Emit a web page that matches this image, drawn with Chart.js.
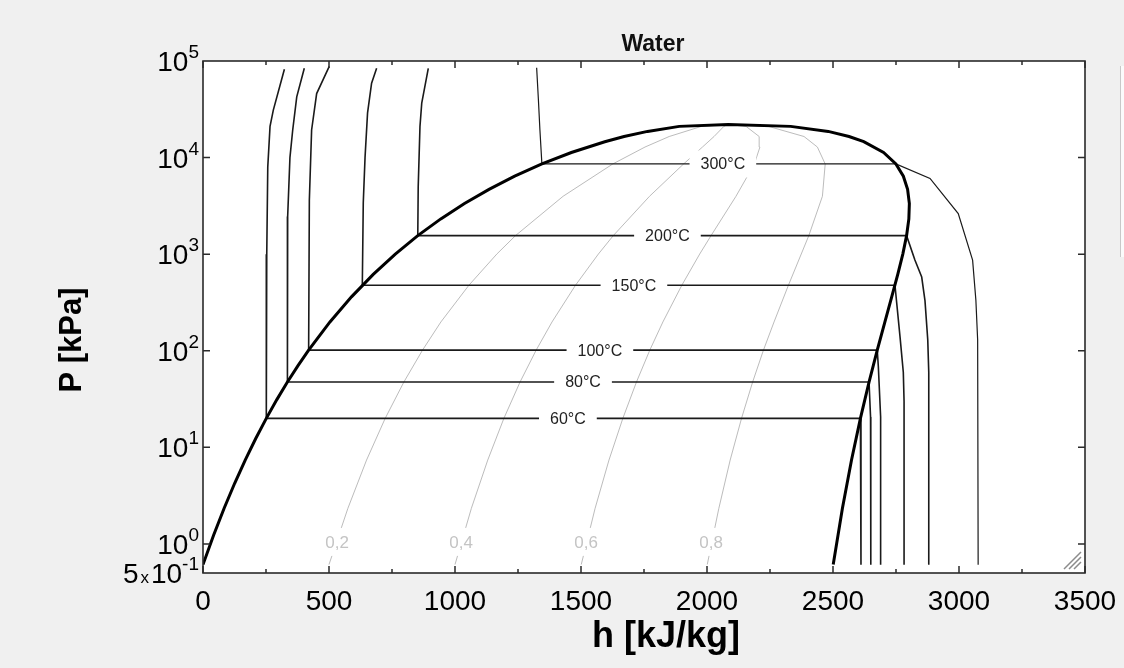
<!DOCTYPE html>
<html>
<head>
<meta charset="utf-8">
<script src="https://cdn.jsdelivr.net/npm/chart.js@4.4.1/dist/chart.umd.min.js"></script>
<style>
  html, body { margin: 0; padding: 0; background: #f0f0f0; }
  #contenedor { width: 1124px; height: 668px; }
</style>
</head>
<body>
<div id="contenedor"><canvas id="grafico" width="1124" height="668"></canvas></div>
<script>
// campana de saturacion: rama liquida y luego rama de vapor (h kJ/kg, P kPa)
const domoH = [0, 42, 83.9, 125.7, 167.5, 209.3, 251.2, 293, 335, 377, 419.2, 503.8, 589.2, 675.5, 763.1, 852.3,
  943.6, 1037.6, 1135, 1236.8, 1344.8, 1461.8, 1594.5, 1671, 1764, 1890, 2084.3,
  2332, 2481, 2563.6, 2622, 2700.6, 2749.6, 2779.2, 2796, 2803, 2801, 2792, 2777, 2757, 2733, 2706,
  2675.6, 2643, 2608.8, 2573.5, 2537.4, 2500.9];
const domoP = [0.6117, 1.228, 2.339, 4.247, 7.385, 12.35, 19.95, 31.2, 47.42, 70.18, 101.4, 198.7, 361.5, 618.2, 1003, 1555,
  2320, 3347, 4692, 6417, 8588, 11284, 14601, 16529, 18666, 21044, 22064,
  21044, 18666, 16529, 14601, 11284, 8588, 6417, 4692, 3347, 2320, 1555, 1003, 618.2, 361.5, 198.7,
  101.4, 47.42, 19.95, 7.385, 2.339, 0.6117];

// isotermas
const iso60H = [323, 279, 266, 257, 253, 251.2, 2608.8, 2611, 2611];
const iso60P = [82000, 31000, 21000, 8000, 1000, 19.95, 19.95, 10, 0.61];
const iso80H = [402, 372, 356, 345, 336, 335, 2643, 2649, 2650];
const iso80P = [84000, 42600, 19300, 10000, 2450, 47.42, 47.42, 20.6, 0.61];
const iso100H = [501, 451, 431, 422, 419.2, 2675.6, 2680, 2689, 2689];
const iso100P = [88000, 46000, 19300, 3600, 101.4, 101.4, 68, 20.6, 0.61];
const iso150H = [689, 669, 653, 643, 636, 632.2, 2745.9, 2766, 2779, 2782, 2782];
const iso150P = [84000, 59000, 29000, 10000, 3400, 476.2, 476.2, 139, 60, 30, 0.61];
const iso200H = [894, 868, 861, 854, 852.3, 2792, 2825, 2852, 2865, 2876, 2880, 2880];
const iso200P = [84000, 36600, 21000, 5000, 1555, 1555, 870, 580, 330, 130, 60, 0.61];
const iso300H = [1324, 1331, 1337, 1344.8, 2749.6, 2885, 2997, 3054, 3067, 3074, 3076];
const iso300P = [85000, 39600, 19300, 8588, 8588, 6080, 2630, 867, 334, 129, 0.61];

// lineas de calidad constante
const calidadP = [0.6117, 2.339, 7.385, 19.95, 47.4, 101.4, 198.7, 476.2, 1003, 1555, 3976, 8588, 12858, 16529, 21044, 22064];
const calidad02H = [500, 575, 649, 723, 797, 871, 944, 1055, 1166, 1240, 1429, 1626, 1754, 1850, 1978, 2084];
const calidad04H = [1000, 1065, 1130, 1194, 1258, 1322, 1385, 1478, 1569, 1628, 1772, 1907, 1982, 2028, 2067, 2084];
const calidad06H = [1501, 1556, 1611, 1666, 1720, 1773, 1825, 1900, 1971, 2016, 2115, 2188, 2210, 2207, 2155, 2084];
const calidad08H = [2001, 2047, 2092, 2137, 2181, 2224, 2266, 2323, 2374, 2404, 2458, 2469, 2438, 2385, 2244, 2084];

// etiquetas
const etiquetasIso = ['60°C', '80°C', '100°C', '150°C', '200°C', '300°C'];
const etiquetaIsoH = [1448, 1508, 1575, 1710, 1843, 2063];
const etiquetaIsoP = [19.95, 47.42, 101.4, 476.2, 1555, 8588];
const etiquetasCalidad = ['0,2', '0,4', '0,6', '0,8'];
const etiquetaCalidadH = [532, 1024, 1520, 2016];
const etiquetaCalidadP = [1.05, 1.05, 1.05, 1.05];

// ejes
const ticksH = [0, 500, 1000, 1500, 2000, 2500, 3000, 3500];
const ticksHMenores = [250, 750, 1250, 1750, 2250, 2750, 3250];
const ticksP = [0.5, 1, 10, 100, 1000, 10000, 100000];
const mantisaP = ['5', '', '', '', '', '', ''];
const exponenteP = ['-1', '0', '1', '2', '3', '4', '5'];

const FUENTE = '"Liberation Sans", Arial, sans-serif';

function puntos(hs, ps) {
    return hs.map((h, i) => ({ x: h, y: ps[i] }));
}

function serie(hs, ps, color, ancho, orden) {
    return {
        data: puntos(hs, ps),
        borderColor: color,
        borderWidth: ancho,
        pointRadius: 0,
        fill: false,
        tension: 0,
        order: orden
    };
}

const datasets = [
    serie(domoH, domoP, '#000000', 3, 0),
    serie(iso60H, iso60P, '#1a1a1a', 1.6, 1),
    serie(iso80H, iso80P, '#1a1a1a', 1.6, 1),
    serie(iso100H, iso100P, '#1a1a1a', 1.6, 1),
    serie(iso150H, iso150P, '#1a1a1a', 1.6, 1),
    serie(iso200H, iso200P, '#1a1a1a', 1.6, 1),
    serie(iso300H, iso300P, '#1a1a1a', 1.2, 1),
    serie(calidad02H, calidadP, '#bcbcbc', 1, 2),
    serie(calidad04H, calidadP, '#bcbcbc', 1, 2),
    serie(calidad06H, calidadP, '#bcbcbc', 1, 2),
    serie(calidad08H, calidadP, '#bcbcbc', 1, 2)
];

function etiquetaConCaja(ctx, texto, x, y, fuente, color, ancho, alto) {
    ctx.font = fuente;
    const tw = ctx.measureText(texto).width;
    ctx.fillStyle = '#ffffff';
    ctx.fillRect(x - tw / 2 - ancho, y - alto / 2, tw + 2 * ancho, alto);
    ctx.fillStyle = color;
    ctx.textAlign = 'center';
    ctx.textBaseline = 'middle';
    ctx.fillText(texto, x, y + 1);
}

function etiquetaPotencia(ctx, y, mant, exp) {
    const derecha = 199;
    ctx.textAlign = 'left';
    ctx.textBaseline = 'alphabetic';
    ctx.fillStyle = '#000000';
    ctx.font = '19px ' + FUENTE;
    const wExp = ctx.measureText(exp).width;
    let x = derecha - wExp;
    ctx.fillText(exp, x, y - 3);
    ctx.font = '28px ' + FUENTE;
    const wBase = ctx.measureText('10').width;
    x -= wBase;
    ctx.fillText('10', x, y + 10);
    if (mant) {
        ctx.font = '17px ' + FUENTE;
        const wx = ctx.measureText('x').width;
        x -= wx + 2;
        ctx.fillText('x', x, y + 10);
        ctx.font = '28px ' + FUENTE;
        const wm = ctx.measureText(mant).width;
        x -= wm + 2;
        ctx.fillText(mant, x, y + 10);
    }
}

const decorado = {
    id: 'decorado',
    beforeDraw(chart) {
        const ctx = chart.ctx;
        const a = chart.chartArea;
        ctx.save();
        ctx.fillStyle = '#f0f0f0';
        ctx.fillRect(0, 0, chart.width, chart.height);
        ctx.fillStyle = '#ffffff';
        ctx.fillRect(a.left, a.top, a.right - a.left, a.bottom - a.top);
        ctx.restore();
    },
    afterDatasetsDraw(chart) {
        const ctx = chart.ctx;
        const a = chart.chartArea;
        const sx = chart.scales.x;
        const sy = chart.scales.y;
        ctx.save();

        // etiquetas de isotermas
        for (let i = 0; i < etiquetasIso.length; i++) {
            etiquetaConCaja(ctx, etiquetasIso[i], sx.getPixelForValue(etiquetaIsoH[i]), sy.getPixelForValue(etiquetaIsoP[i]),
                '16px ' + FUENTE, '#222222', 11, 27);
        }
        // etiquetas de calidad
        for (let i = 0; i < etiquetasCalidad.length; i++) {
            etiquetaConCaja(ctx, etiquetasCalidad[i], sx.getPixelForValue(etiquetaCalidadH[i]), sy.getPixelForValue(etiquetaCalidadP[i]),
                '17px ' + FUENTE, '#c4c4c4', 4, 28);
        }

        // marco
        ctx.strokeStyle = '#2a2a2a';
        ctx.lineWidth = 1.6;
        ctx.strokeRect(a.left, a.top, a.right - a.left, a.bottom - a.top);

        // marcas del eje h
        ctx.beginPath();
        ticksH.concat(ticksHMenores).forEach(v => {
            const x = sx.getPixelForValue(v);
            const largo = ticksH.includes(v) ? 7 : 4;
            ctx.moveTo(x, a.bottom); ctx.lineTo(x, a.bottom - largo);
            ctx.moveTo(x, a.top); ctx.lineTo(x, a.top + largo);
        });
        // marcas del eje P
        ticksP.forEach(v => {
            const y = sy.getPixelForValue(v);
            if (y <= a.top + 1 || y >= a.bottom - 1) return;
            ctx.moveTo(a.left, y); ctx.lineTo(a.left + 7, y);
            ctx.moveTo(a.right, y); ctx.lineTo(a.right - 7, y);
        });
        ctx.lineWidth = 1.5;
        ctx.stroke();

        // etiquetas del eje P
        for (let i = 0; i < ticksP.length; i++) {
            etiquetaPotencia(ctx, sy.getPixelForValue(ticksP[i]), mantisaP[i], exponenteP[i]);
        }

        // titulos
        ctx.fillStyle = '#111111';
        ctx.textAlign = 'center';
        ctx.textBaseline = 'middle';
        ctx.font = 'bold 23px ' + FUENTE;
        ctx.fillText('Water', 653, 45);
        ctx.fillStyle = '#000000';
        ctx.font = 'bold 36px ' + FUENTE;
        ctx.fillText('h [kJ/kg]', 666, 637);
        ctx.save();
        ctx.translate(72, 340);
        ctx.rotate(-Math.PI / 2);
        ctx.font = 'bold 31px ' + FUENTE;
        ctx.fillText('P [kPa]', 0, 0);
        ctx.restore();

        // asa de redimension
        ctx.strokeStyle = '#8c8c8c';
        ctx.lineWidth = 1.5;
        ctx.beginPath();
        [0, 5, 10].forEach(d => {
            ctx.moveTo(a.right - 21 + d, a.bottom - 4);
            ctx.lineTo(a.right - 4, a.bottom - 21 + d);
        });
        ctx.stroke();

        // panel recortado a la derecha
        ctx.fillStyle = '#fbfbfb';
        ctx.fillRect(1120, 66, 4, 191);
        ctx.strokeStyle = '#c8c8c8';
        ctx.lineWidth = 1;
        ctx.beginPath();
        ctx.moveTo(1120.5, 66); ctx.lineTo(1120.5, 257);
        ctx.stroke();

        ctx.restore();
    }
};

new Chart(document.getElementById('grafico').getContext('2d'), {
    type: 'line',
    data: { datasets: datasets },
    plugins: [decorado],
    options: {
        responsive: false,
        animation: false,
        events: [],
        layout: { padding: { left: 0, top: 61, right: 39, bottom: 0 } },
        plugins: { legend: { display: false }, tooltip: { enabled: false }, title: { display: false } },
        scales: {
            x: {
                type: 'linear',
                min: 0,
                max: 3500,
                grid: { display: false, drawTicks: false },
                border: { display: false },
                afterBuildTicks: scale => { scale.ticks = ticksH.map(v => ({ value: v })); },
                afterFit: scale => {
                    scale.height = 95;
                    scale.paddingLeft = 0;
                    scale.paddingRight = 0;
                },
                ticks: {
                    autoSkip: false,
                    maxRotation: 0,
                    padding: 12,
                    color: '#000000',
                    font: { family: FUENTE, size: 28 },
                    callback: valor => String(valor)
                }
            },
            y: {
                type: 'logarithmic',
                min: 0.5,
                max: 100000,
                grid: { display: false, drawTicks: false },
                border: { display: false },
                ticks: { display: false },
                afterFit: scale => { scale.width = 203; }
            }
        }
    }
});
</script>
</body>
</html>
